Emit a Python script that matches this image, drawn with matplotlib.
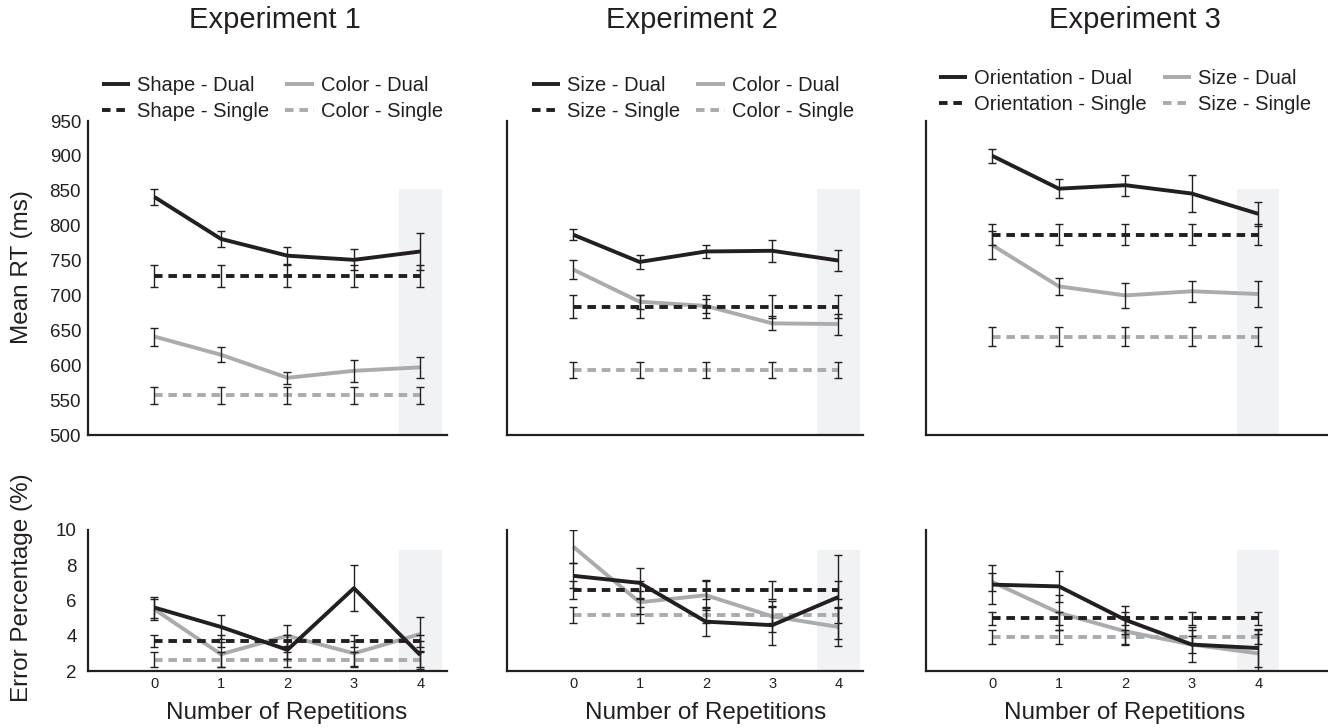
import matplotlib.pyplot as plt
import numpy as np

plt.rcParams["font.family"] = ["Liberation Sans", "DejaVu Sans"]

DARK = "#231f20"
GRAY = "#a9abae"
SHADE = "#f1f2f4"

reps = [0, 1, 2, 3, 4]
exp_titles = ["Experiment 1", "Experiment 2", "Experiment 3"]
legend_labels = [
    ["Shape - Dual", "Shape - Single", "Color - Dual", "Color - Single"],
    ["Size - Dual", "Size - Single", "Color - Dual", "Color - Single"],
    ["Orientation - Dual", "Orientation - Single", "Size - Dual", "Size - Single"],
]

# mean RT (ms); "dark" = first task, "gray" = second task
rt_dark_dual = [[841, 781, 757, 751, 763], [787, 748, 763, 764, 750], [900, 853, 858, 846, 817]]
rt_dark_dual_err = [[12, 12, 12, 15, 26], [8, 10, 10, 16, 15], [10, 14, 15, 26, 17]]
rt_dark_single = [[728, 728, 728, 728, 728], [684, 684, 684, 684, 684], [787, 787, 787, 787, 787]]
rt_dark_single_err = [[16, 16, 16, 16, 16], [17, 17, 17, 17, 17], [15, 15, 15, 15, 15]]
rt_gray_dual = [[641, 615, 582, 592, 597], [737, 691, 685, 660, 659], [772, 713, 700, 706, 702]]
rt_gray_dual_err = [[13, 11, 9, 16, 15], [14, 10, 10, 10, 15], [20, 12, 18, 15, 18]]
rt_gray_single = [[557, 557, 557, 557, 557], [593, 593, 593, 593, 593], [641, 641, 641, 641, 641]]
rt_gray_single_err = [[12, 12, 12, 12, 12], [11, 11, 11, 11, 11], [14, 14, 14, 14, 14]]

# error percentage (%)
err_dark_dual = [[5.6, 4.5, 3.2, 6.7, 2.9], [7.4, 7.0, 4.8, 4.6, 6.2], [6.9, 6.8, 4.9, 3.5, 3.3]]
err_dark_dual_err = [[0.6, 0.7, 0.5, 1.3, 0.8], [0.7, 0.85, 0.8, 1.1, 2.4], [1.1, 0.9, 0.8, 1.0, 1.1]]
err_dark_single = [[3.7, 3.7, 3.7, 3.7, 3.7], [6.6, 6.6, 6.6, 6.6, 6.6], [5.0, 5.0, 5.0, 5.0, 5.0]]
err_dark_single_err = [[0.33, 0.33, 0.33, 0.33, 0.33], [0.5, 0.5, 0.5, 0.5, 0.5], [0.37, 0.37, 0.37, 0.37, 0.37]]
err_gray_dual = [[5.5, 2.95, 4.0, 3.0, 4.1], [9.05, 5.9, 6.3, 5.1, 4.5], [7.05, 5.3, 4.25, 3.5, 3.0]]
err_gray_dual_err = [[0.6, 0.7, 0.6, 0.7, 0.95], [0.95, 0.65, 0.85, 0.9, 1.1], [0.5, 1.0, 0.8, 0.5, 1.1]]
err_gray_single = [[2.65, 2.65, 2.65, 2.65, 2.65], [5.2, 5.2, 5.2, 5.2, 5.2], [3.95, 3.95, 3.95, 3.95, 3.95]]
err_gray_single_err = [[0.4, 0.4, 0.4, 0.4, 0.4], [0.45, 0.45, 0.45, 0.45, 0.45], [0.4, 0.4, 0.4, 0.4, 0.4]]

W, H = 1328, 728
fig = plt.figure(figsize=(W / 100, H / 100), dpi=100)

# axes extents in pixels: (left spine, right end, xmax)
cols = [(88, 447, 4.40), (507, 863, 4.37), (926, 1328, 5.05)]
top_y = (121, 435)
bot_y = (530, 671)

dash = (0, (2.2, 1.5))
LW = 2.8


def draw(ax, dd, dde, ds, dse, gd, gde, gs, gse, shade_top, ylo):
    ax.axvspan(3.68, 4.32, ymin=0, ymax=(shade_top - ylo) / (ax.get_ylim()[1] - ylo),
               color=SHADE, lw=0, zorder=0)
    eb = dict(fmt="none", ecolor=DARK, elinewidth=1.0, capsize=2.8, capthick=1.0, zorder=3)
    h1, = ax.plot(reps, dd, color=DARK, lw=LW, zorder=4, solid_capstyle="butt")
    h2, = ax.plot(reps, ds, color=DARK, lw=LW, ls=dash, zorder=4)
    h3, = ax.plot(reps, gd, color=GRAY, lw=LW, zorder=2, solid_capstyle="butt")
    h4, = ax.plot(reps, gs, color=GRAY, lw=LW, ls=dash, zorder=2)
    ax.errorbar(reps, dd, yerr=dde, **eb)
    ax.errorbar(reps, ds, yerr=dse, **eb)
    ax.errorbar(reps, gd, yerr=gde, **eb)
    ax.errorbar(reps, gs, yerr=gse, **eb)
    return [h1, h2, h3, h4]


def style(ax):
    for s in ["top", "right"]:
        ax.spines[s].set_visible(False)
    for s in ["left", "bottom"]:
        ax.spines[s].set_linewidth(1.6)
        ax.spines[s].set_color(DARK)
    ax.tick_params(length=0, colors=DARK)


legend_x = [0.039, 0.07, 0.032]
legend_y = [1.0, 1.0, 1.022]

for i, (lx, rx, xmax) in enumerate(cols):
    # top: mean RT
    ax = fig.add_axes([lx / W, 1 - top_y[1] / H, (rx - lx) / W, (top_y[1] - top_y[0]) / H])
    ax.set_xlim(-1, xmax)
    ax.set_ylim(500, 950)
    hs = draw(ax, rt_dark_dual[i], rt_dark_dual_err[i], rt_dark_single[i], rt_dark_single_err[i],
              rt_gray_dual[i], rt_gray_dual_err[i], rt_gray_single[i], rt_gray_single_err[i], 853, 500)
    style(ax)
    ax.set_xticks([])
    if i == 0:
        ax.set_yticks(np.arange(500, 951, 50))
        ax.tick_params(axis="y", labelsize=13.5, pad=5)
        for t in ax.get_yticklabels():
            t.set_color(DARK)
    else:
        ax.set_yticks([])
    leg = ax.legend(hs, legend_labels[i], ncols=2, loc="lower left",
                    bbox_to_anchor=(legend_x[i], legend_y[i]), frameon=False,
                    fontsize=14.5, borderpad=0, borderaxespad=0, handlelength=1.4,
                    handletextpad=0.35, columnspacing=0.8, labelspacing=0.35)
    for t in leg.get_texts():
        t.set_color(DARK)
    ax.set_title(exp_titles[i], fontsize=21, color=DARK, pad=67, x=0.52)

    # bottom: error percentage
    bx = fig.add_axes([lx / W, 1 - bot_y[1] / H, (rx - lx) / W, (bot_y[1] - bot_y[0]) / H])
    bx.set_xlim(-1, xmax)
    bx.set_ylim(2, 10)
    draw(bx, err_dark_dual[i], err_dark_dual_err[i], err_dark_single[i], err_dark_single_err[i],
         err_gray_dual[i], err_gray_dual_err[i], err_gray_single[i], err_gray_single_err[i], 8.85, 2)
    style(bx)
    bx.set_xticks(reps)
    bx.tick_params(axis="x", labelsize=10.5, pad=4)
    for t in bx.get_xticklabels():
        t.set_color(DARK)
    if i == 0:
        bx.set_yticks([2, 4, 6, 8, 10])
        bx.tick_params(axis="y", labelsize=13.5, pad=8)
        for t in bx.get_yticklabels():
            t.set_color(DARK)
    else:
        bx.set_yticks([])
    fig.text((lx + 66 + 2 * 66.5) / W, 1 - 713 / H, "Number of Repetitions",
             ha="center", va="center", fontsize=17.5, color=DARK)

fig.text(22 / W, 1 - 267 / H, "Mean RT (ms)", rotation=90, ha="center", va="center",
         fontsize=17.5, color=DARK)
fig.text(22 / W, 1 - 588 / H, "Error Percentage (%)", rotation=90, ha="center", va="center",
         fontsize=17.5, color=DARK)

fig.savefig("out.png", dpi=100)
